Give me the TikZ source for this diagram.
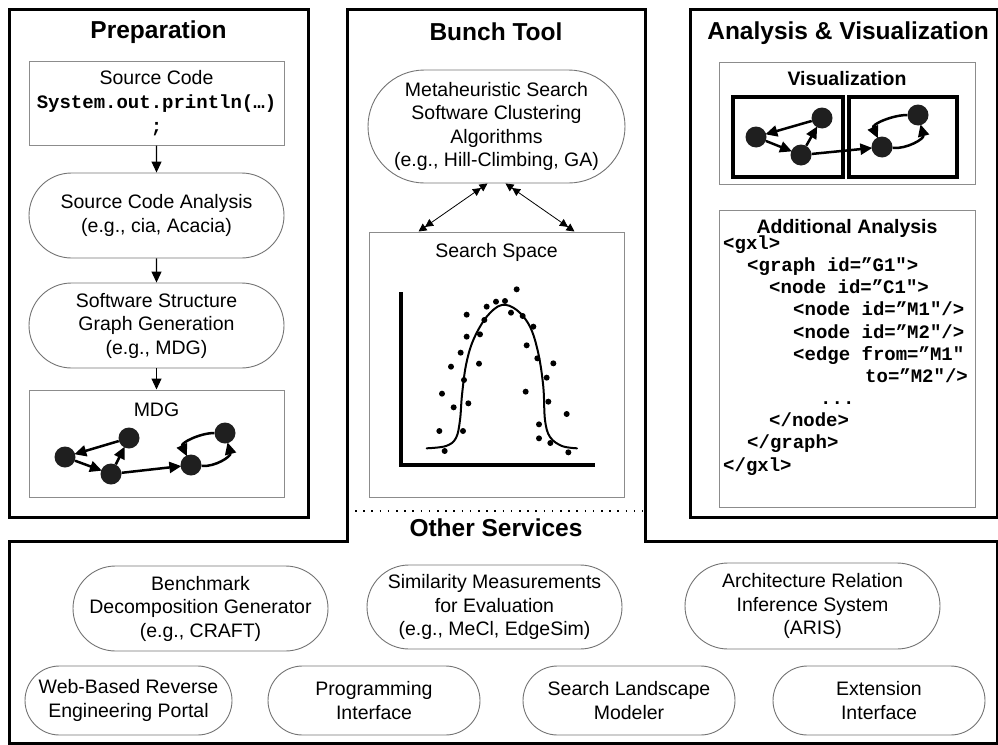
\documentclass[tikz,border=0pt]{standalone}
\usepackage{fontspec}
\setmainfont{Liberation Sans}
\setmonofont{Liberation Mono}
\usetikzlibrary{shapes.misc,arrows.meta}
\newcommand\mytext{\fontsize{19.5}{23.5}\selectfont}
\newcommand\mytitle{\fontsize{24.5}{28}\selectfont\bfseries}
\newcommand\mysub{\fontsize{19.5}{23}\selectfont\bfseries}
\newcommand\mycode{\fontsize{19}{22}\selectfont\ttfamily\bfseries}
\begin{document}
\begin{tikzpicture}[x=1pt,y=-1pt,
  thickbox/.style={line width=3pt, draw=black},
  inbox/.style={draw=black!45, line width=1pt, rectangle, inner sep=0pt},
  pill/.style={draw=black!55, line width=0.9pt, rounded rectangle, inner sep=0pt, align=center, font=\mytext},
  lbl/.style={inner sep=0pt, align=center, font=\mytext},
  ttl/.style={inner sep=0pt, font=\mytitle},
  sub/.style={inner sep=0pt, font=\mysub},
  code/.style={inner sep=0pt, anchor=base west, font=\mycode},
  arr/.style={line width=1.1pt, -{Triangle[length=11pt,width=10pt]}},
  gnode/.style={circle, fill=black!88, minimum size=21pt, inner sep=0pt},
  garr/.style={line width=2.5pt, -{Triangle[length=12pt,width=11pt]}, shorten >=-1pt},
  dbl/.style={line width=0.8pt, {Triangle[length=8pt,width=8pt]Triangle[length=8pt,width=8pt]}-{Triangle[length=8pt,width=8pt]Triangle[length=8pt,width=8pt]}},
]
\useasboundingbox (0,0) rectangle (998,744);

% outer frames
\draw[thickbox] (9,9) rectangle (308,517);
\draw[thickbox] (690,9) rectangle (997,517);
\draw[thickbox] (347,9) -- (645,9) -- (645,541) -- (997,541) -- (997,743) -- (9,743) -- (9,541) -- (347,541) -- cycle;
\draw[line width=1.8pt, dash pattern=on 1.6pt off 6.6pt] (355,511) -- (643,511);

% titles
\node[ttl] (tprep) at (158.5,32) {Preparation};
\node[ttl] (tbunch) at (496,32) {Bunch Tool};
\node[ttl] (tana) at (848,33) {Analysis \& Visualization};
\node[ttl] (tother) at (496,528) {Other Services};

% Preparation column
\node[inbox, minimum width=255pt, minimum height=84pt, align=center, font=\mytext] (src) at (156.5,103)
  {Source Code\\[1pt]{\mycode System.out.println(…)}\\{\mycode ;}};
\node[pill, minimum width=255pt, minimum height=85pt] (sca) at (156.5,215.5)
  {Source Code Analysis\\(e.g., cia, Acacia)};
\node[pill, minimum width=255pt, minimum height=85pt] (ssg) at (156.5,325.5)
  {Software Structure\\Graph Generation\\(e.g., MDG)};
\node[inbox, minimum width=255pt, minimum height=107pt] (mdg) at (156.5,443.5) {};
\node[lbl] (mdglbl) at (156.5,410) {MDG};
\draw[arr] (src) -- (sca);
\draw[arr] (sca) -- (ssg);
\draw[arr] (ssg) -- (mdg);

\node[gnode] (n1) at (65,457) {};
\node[gnode] (n2) at (129,438) {};
\node[gnode] (n3) at (111,474) {};
\node[gnode] (n4) at (191,465) {};
\node[gnode] (n5) at (225,433) {};
\draw[garr] (n2) -- (n1);
\draw[garr] (n1) -- (n3);
\draw[garr] (n3) -- (n2);
\draw[garr] (n3) -- (n4);
\draw[garr] (n5) to[out=180,in=115] (n4);
\draw[garr] (n4) to[out=-5,in=-75] (n5);

% Bunch tool column
\node[pill, minimum width=257pt, minimum height=113pt] (meta) at (496.5,126.5)
  {Metaheuristic Search\\Software Clustering\\Algorithms\\(e.g., Hill-Climbing, GA)};
\node[inbox, minimum width=255pt, minimum height=265pt] (ss) at (496.5,364.5) {};
\node[lbl] (sslbl) at (496.5,252) {Search Space};
\draw[dbl] ([xshift=-9pt]meta.south) -- ([xshift=-78pt]ss.north);
\draw[dbl] ([xshift=9pt]meta.south) -- ([xshift=78pt]ss.north);

\draw[line width=4.5pt] (401,292) -- (401,465) -- (595,465);
\draw[line width=2pt, line cap=round] plot[smooth, tension=0.6] coordinates {
  (426.7,448.3) (446,446) (456,438) (460,420) (462,395) (466,365) (473.3,340) (486.7,316.7)
  (501.7,305) (516.7,310) (530,326.7) (538.3,353.3) (543.3,386.7) (545,420) (550,437) (562,446) (577,448.3)};
\foreach \a/\b in {560/208,470/260,498/245,525/243,410/284,463/300,543/278,578/288,610/320,
  410/350,450/343,590/376,392/398,622/415,363/440,447/431,670/430,402/480,650/473,336/521,
  587/515,371/562,415/550,655/545,710/582,328/633,399/633,627/613,627/655,661/669,344/693,715/697}
  \fill (330+\a/3, 220+\b/3) circle (3pt);

% Analysis column
\node[inbox, minimum width=256pt, minimum height=122pt] (vis) at (847,123) {};
\node[sub] (vislbl) at (847,79) {Visualization};
\draw[line width=4pt] (733,97) rectangle (843,177);
\draw[line width=4pt] (849,97) rectangle (957,177);
\node[gnode] (a1) at (756,137) {};
\node[gnode] (a2) at (822,118) {};
\node[gnode] (a3) at (801,155) {};
\node[gnode] (a4) at (882,147) {};
\node[gnode] (a5) at (918,115) {};
\draw[garr] (a2) -- (a1);
\draw[garr] (a1) -- (a3);
\draw[garr] (a3) -- (a2);
\draw[garr] (a3) -- (a4);
\draw[garr] (a5) to[out=180,in=115] (a4);
\draw[garr] (a4) to[out=-5,in=-75] (a5);

\node[inbox, minimum width=256pt, minimum height=297pt] (add) at (847,358.5) {};
\node[sub] (addlbl) at (847,228) {Additional Analysis};
\node[code] (c1) at (723,249) {<gxl>};
\node[code] (c2) at (747,271) {<graph id=”G1">};
\node[code] (c3) at (769,293) {<node id=”C1">};
\node[code] (c4) at (793,315) {<node id=”M1"/>};
\node[code] (c5) at (793,338) {<node id=”M2"/>};
\node[code] (c6) at (793,360) {<edge from=”M1"};
\node[code] (c7) at (865,382) {to=”M2"/>};
\node[code] (c8) at (820,404) {...};
\node[code] (c9) at (769,426) {</node>};
\node[code] (c10) at (747,448) {</graph>};
\node[code] (c11) at (723,471) {</gxl>};

% Other services
\node[pill, minimum width=255pt, minimum height=85pt] (bench) at (200.5,608.5)
  {Benchmark\\Decomposition Generator\\(e.g., CRAFT)};
\node[pill, minimum width=255pt, minimum height=84pt] (simil) at (494.5,607)
  {Similarity Measurements\\for Evaluation\\(e.g., MeCl, EdgeSim)};
\node[pill, minimum width=255pt, minimum height=86pt] (aris) at (812.5,606)
  {Architecture Relation\\Inference System\\(ARIS)};
\node[pill, minimum width=207pt, minimum height=69pt] (web) at (128.5,700.5)
  {Web-Based Reverse\\Engineering Portal};
\node[pill, minimum width=212pt, minimum height=69pt] (prog) at (374,700.5)
  {Programming\\Interface};
\node[pill, minimum width=212pt, minimum height=69pt] (slm) at (629,700.5)
  {Search Landscape\\Modeler};
\node[pill, minimum width=212pt, minimum height=69pt] (ext) at (879,700.5)
  {Extension\\Interface};
\end{tikzpicture}
\end{document}
